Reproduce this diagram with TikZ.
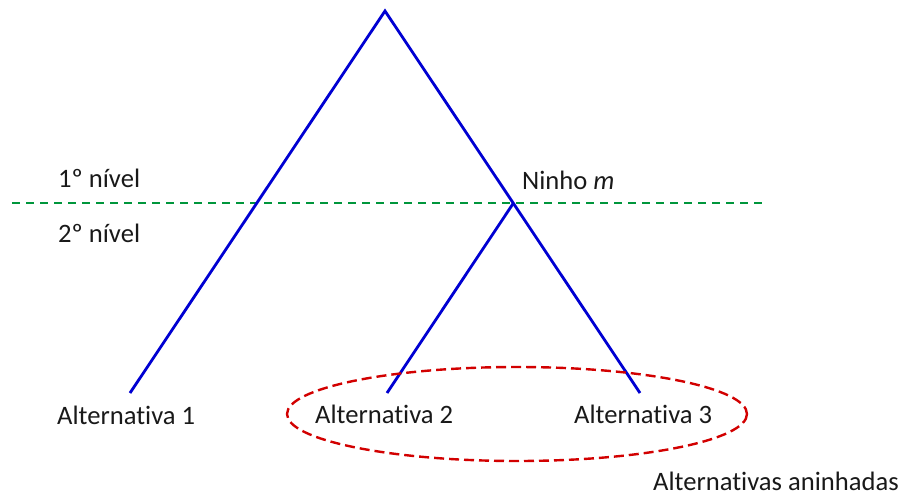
\documentclass[tikz,border=0pt]{standalone}
\usepackage{fontspec}
\setmainfont{Carlito}[Ligatures=NoCommon]
\definecolor{treeblue}{RGB}{0,0,210}
\definecolor{levelgreen}{RGB}{0,150,60}
\definecolor{nestred}{RGB}{210,0,0}
\begin{document}
\begin{tikzpicture}[x=1pt,y=-1pt,
  branch/.style={treeblue,line width=2.8pt},
  levelline/.style={levelgreen,line width=2.1pt,dash pattern=on 8pt off 6pt},
  nestring/.style={nestred,line width=2.4pt,dash pattern=on 10pt off 5pt},
  lbl/.style={anchor=base west,inner sep=0pt,font=\fontsize{26.6}{32}\selectfont,text=black!90}]
\useasboundingbox (0,0) rectangle (903,495);
\coordinate (top) at (385,11);
\coordinate (nest) at (513.5,203);
\coordinate (a1) at (130,393);
\coordinate (a2) at (387,393);
\coordinate (a3) at (640,393);
\coordinate (gl) at (12,203);
\coordinate (gr) at (762,203);
\draw[levelline] (gl) -- (gr);
\draw[branch] (a1) -- (top) -- (a3);
\draw[branch] (nest) -- (a2);
\draw[nestring] (517,414) ellipse [x radius=230, y radius=47];
\node[lbl] (n1) at (58,187) {1º nível};
\node[lbl] (n2) at (58,242) {2º nível};
\node[lbl] (ninho) at (522,189) {Ninho \textit{m}};
\node[lbl] (alt1) at (57,424) {Alternativa 1};
\node[lbl] (alt2) at (315,423) {Alternativa 2};
\node[lbl] (alt3) at (574,423) {Alternativa 3};
\node[lbl] (nested) at (653,490) {Alternativas aninhadas};
\end{tikzpicture}
\end{document}
